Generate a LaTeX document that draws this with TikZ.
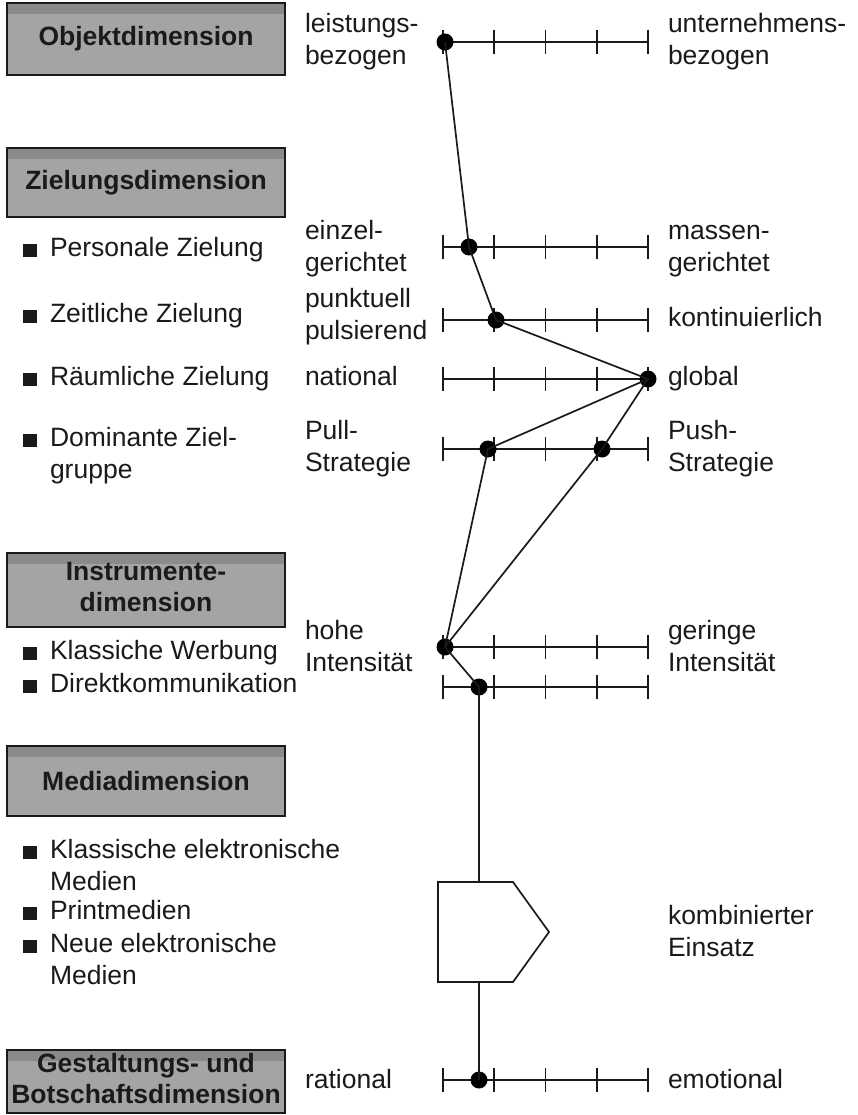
\documentclass[tikz,border=0pt]{standalone}
\usepackage{fontspec}
\setmainfont{Liberation Sans}
\definecolor{boxgray}{HTML}{A4A4A4}
\definecolor{bandgray}{HTML}{8A8A8A}
\definecolor{ink}{HTML}{1A1A1A}
\newcommand{\drawscale}[1]{%
  \draw[scaleln] (443,#1) -- (648,#1);
  \foreach \tx in {443,494.25,545.5,596.75,648}{\draw[scaleln] (\tx,#1-12) -- (\tx,#1+12);}
}
\begin{document}
\begin{tikzpicture}[x=1pt,y=-1pt,
  every node/.style={inner sep=0pt, outer sep=0pt, text=ink},
  txt/.style={font=\fontsize{26.5}{32}\selectfont, align=left, anchor=west},
  hdr/.style={draw=ink, line width=1.6pt, fill=boxgray, minimum width=278pt,
    font=\bfseries\fontsize{26.5}{31}\selectfont, align=center,
    path picture={\fill[bandgray] (path picture bounding box.north west) rectangle ([yshift=-11pt]path picture bounding box.north east);}},
  bul/.style={fill=ink, minimum width=14pt, minimum height=13pt},
  dot/.style={circle, fill=black, minimum size=17pt},
  scaleln/.style={line width=1.7pt, draw=ink},
  conn/.style={line width=1.7pt, draw=ink}]
\useasboundingbox (0,0) rectangle (858,1115);

% header boxes
\node[hdr, minimum height=72pt] (h1) at (146,39) {Objektdimension};
\node[hdr, minimum height=69pt] (h2) at (146,182.5) {Zielungsdimension};
\node[hdr, minimum height=74pt] (h3) at (146,590) {\strut Instrumente-\\\strut dimension};
\node[hdr, minimum height=70pt] (h4) at (146,781) {Mediadimension};
\node[hdr, minimum height=63pt] (h5) at (146,1081.5) {\strut Gestaltungs- und\\\strut Botschaftsdimension};

% left items
\node[bul] (b1) at (30,250) {};
\node[txt] (i1) at (50,250) {\strut Personale Zielung};
\node[bul] (b2) at (30,316) {};
\node[txt] (i2) at (50,316) {\strut Zeitliche Zielung};
\node[bul] (b3) at (30,379) {};
\node[txt] (i3) at (50,379) {\strut Räumliche Zielung};
\node[bul] (b4) at (30,440) {};
\node[txt] (i4) at (50,456) {\strut Dominante Ziel-\\\strut gruppe};
\node[bul] (b5) at (30,653) {};
\node[txt] (i5) at (50,653) {\strut Klassiche Werbung};
\node[bul] (b6) at (30,686) {};
\node[txt] (i6) at (50,686) {\strut Direktkommunikation};
\node[bul] (b7) at (30,852) {};
\node[txt] (i7) at (50,868) {\strut Klassische elektronische\\\strut Medien};
\node[bul] (b8) at (30,913) {};
\node[txt] (i8) at (50,913) {\strut Printmedien};
\node[bul] (b9) at (30,946) {};
\node[txt] (i9) at (50,962) {\strut Neue elektronische\\\strut Medien};

% middle (left pole) labels
\node[txt] (l1) at (305,42) {\strut leistungs-\\\strut bezogen};
\node[txt] (l2) at (305,249) {\strut einzel-\\\strut gerichtet};
\node[txt] (l3) at (305,317) {\strut punktuell\\\strut pulsierend};
\node[txt] (l4) at (305,379) {\strut national};
\node[txt] (l5) at (305,449) {\strut Pull-\\\strut Strategie};
\node[txt] (l6) at (305,649) {\strut hohe\\\strut Intensität};
\node[txt] (l8) at (305,1082) {\strut rational};

% right pole labels
\node[txt] (r1) at (668,42) {\strut unternehmens-\\\strut bezogen};
\node[txt] (r2) at (668,249) {\strut massen-\\\strut gerichtet};
\node[txt] (r3) at (668,320) {\strut kontinuierlich};
\node[txt] (r4) at (668,379) {\strut global};
\node[txt] (r5) at (668,449) {\strut Push-\\\strut Strategie};
\node[txt] (r6) at (668,649) {\strut geringe\\\strut Intensität};
\node[txt] (kt) at (668,934) {\strut kombinierter\\\strut Einsatz};
\node[txt] (r8) at (668,1082) {\strut emotional};

% scales
\drawscale{42}
\drawscale{247}
\drawscale{320}
\drawscale{379}
\drawscale{449}
\drawscale{647}
\drawscale{687}
\drawscale{1080}

% pentagon
\draw[conn, line join=miter] (438,882) -- (513,882) -- (549,932) -- (513,982) -- (438,982) -- cycle;
\coordinate (ptop) at (479,882);
\coordinate (pbot) at (479,982);

% dots
\node[dot] (d1) at (445,42) {};
\node[dot] (d2) at (469,247) {};
\node[dot] (d3) at (496,320) {};
\node[dot] (d4) at (648,379) {};
\node[dot] (d5a) at (488,449) {};
\node[dot] (d5b) at (602,449) {};
\node[dot] (d6) at (445,647) {};
\node[dot] (d7) at (479,687) {};
\node[dot] (d8) at (479,1080) {};

% profile lines
\draw[conn] (d1.center) -- (d2.center) -- (d3.center) -- (d4.center) -- (d5a.center) -- (d6.center);
\draw[conn] (d4.center) -- (d5b.center) -- (d6.center);
\draw[conn] (d6.center) -- (d7.center) -- (ptop);
\draw[conn] (pbot) -- (d8.center);
\end{tikzpicture}
\end{document}
